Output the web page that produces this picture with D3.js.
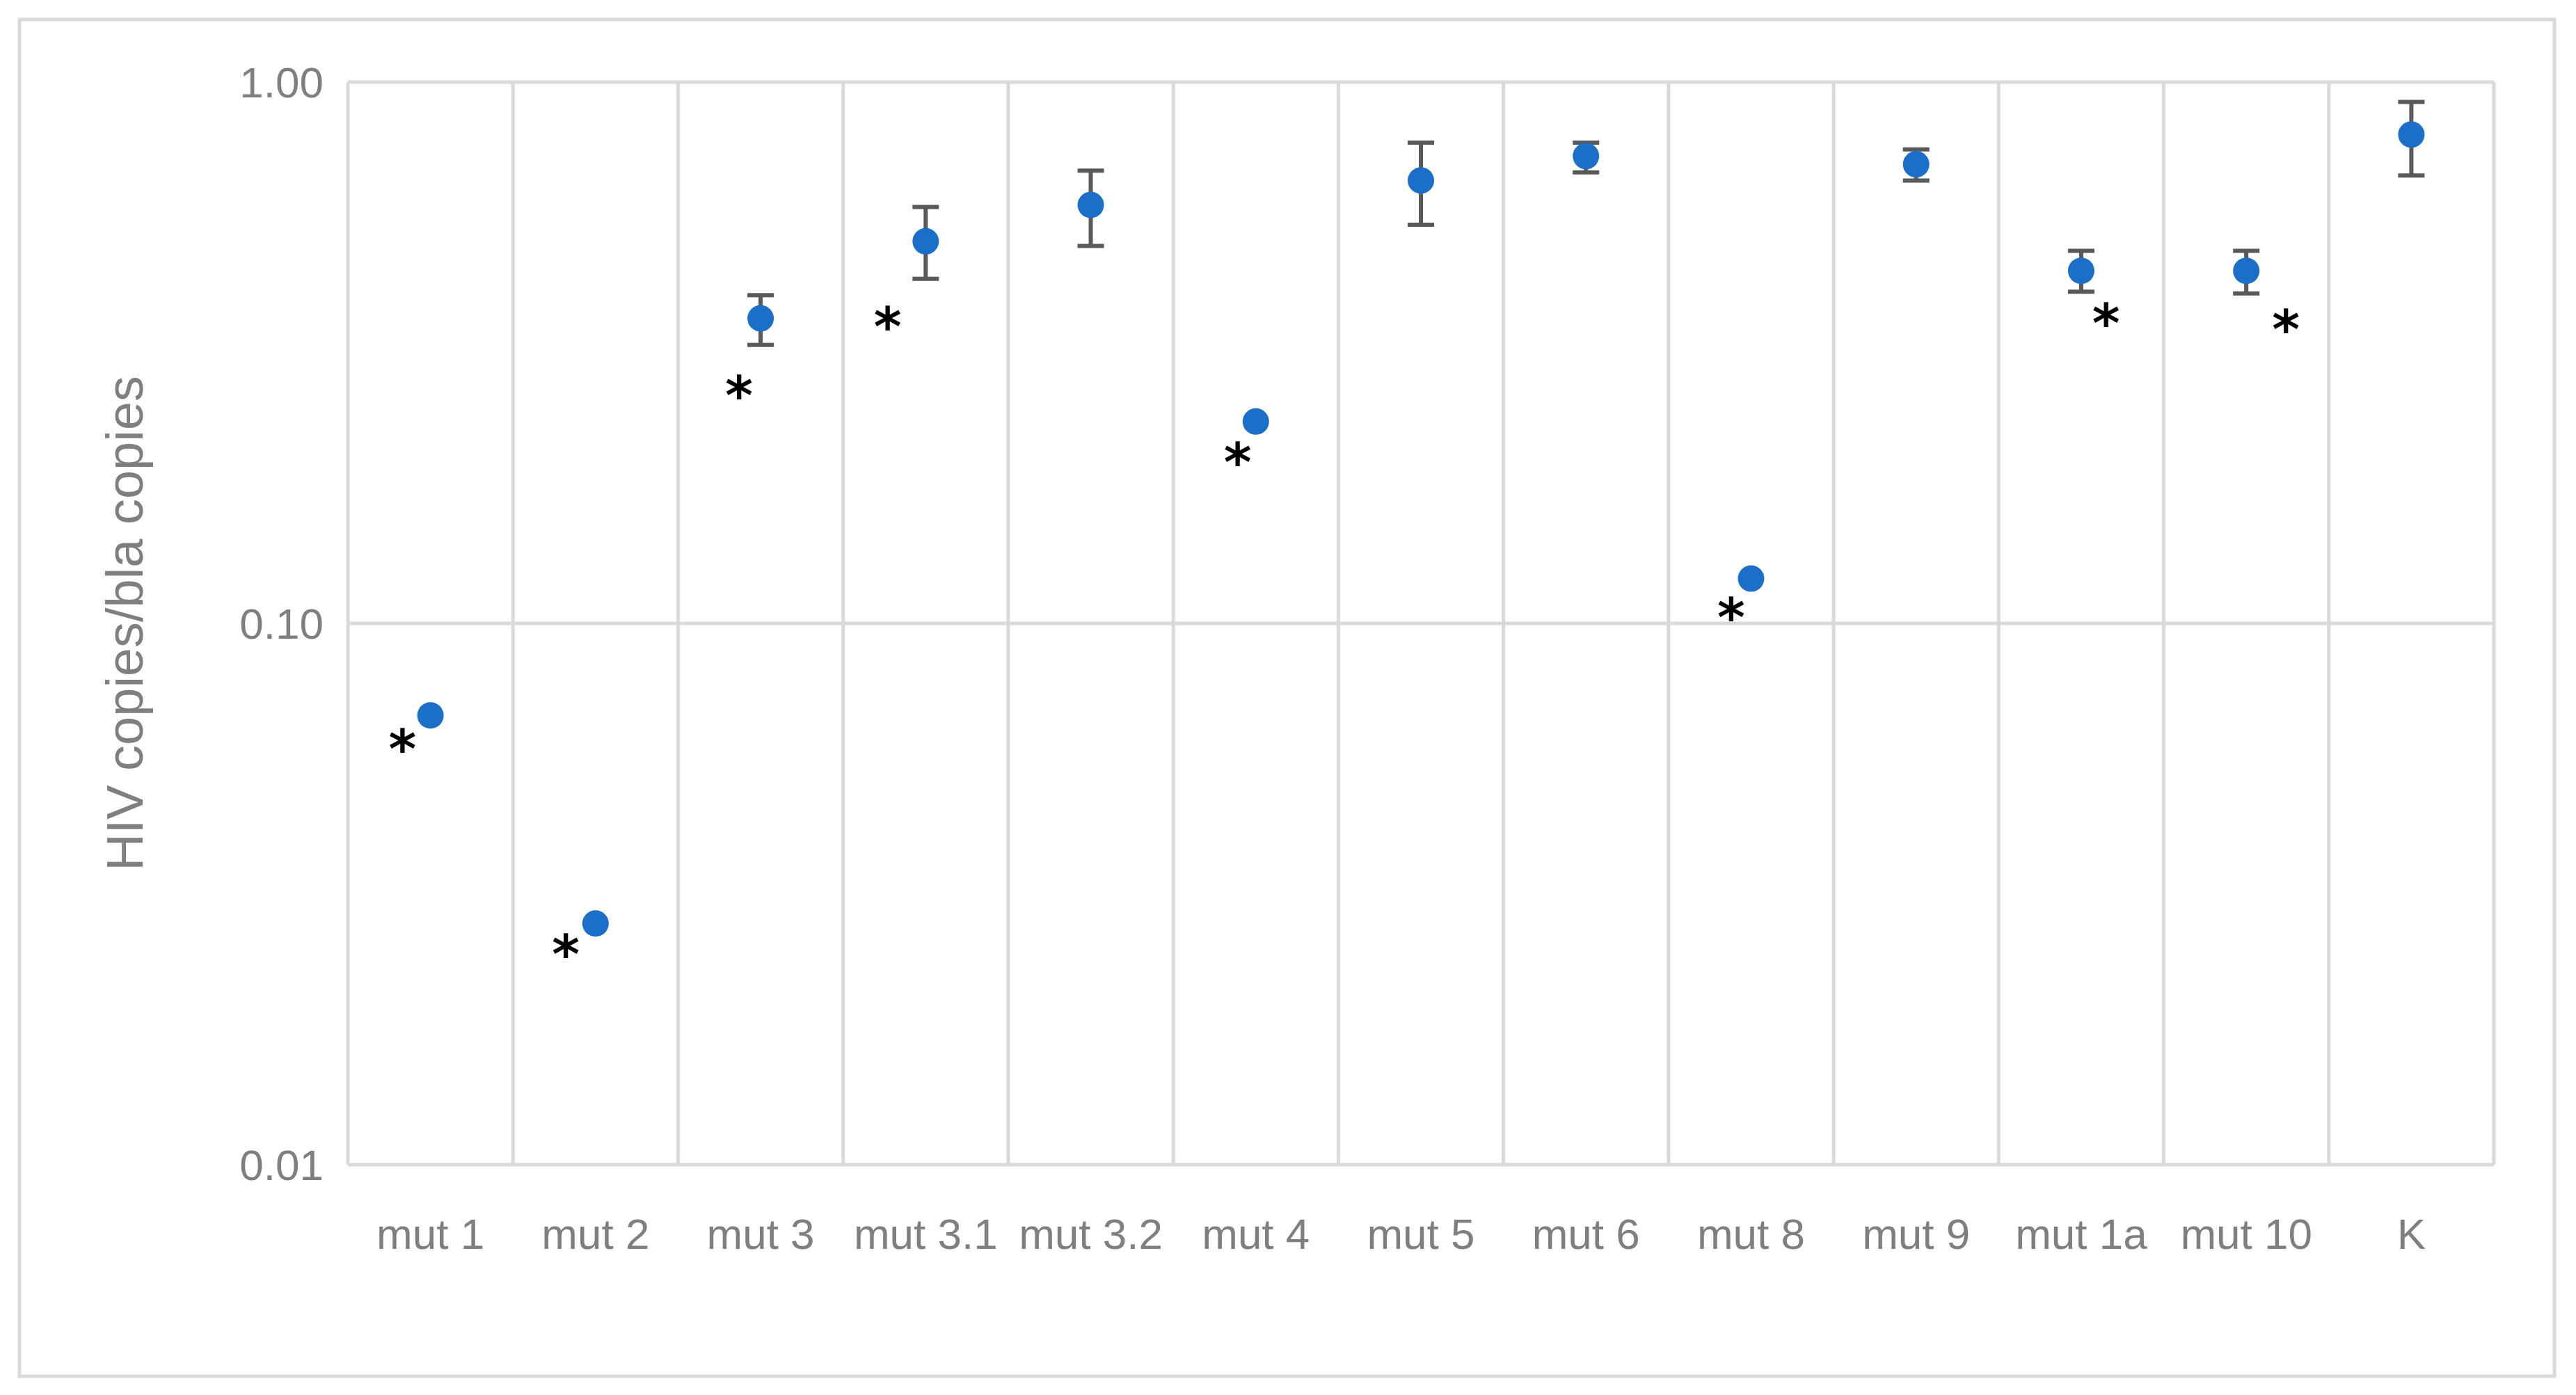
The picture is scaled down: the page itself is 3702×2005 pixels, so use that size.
<!DOCTYPE html>
<html><head><meta charset="utf-8">
<script src="https://cdn.jsdelivr.net/npm/d3@7"></script>
<style>body{margin:0;background:#fff}</style></head>
<body><svg id="c" width="3702" height="2005"></svg>
<script>
const categories=["mut 1","mut 2","mut 3","mut 3.1","mut 3.2","mut 4","mut 5","mut 6","mut 8","mut 9","mut 1a","mut 10","K"];
const values=[0.0676,0.0279,0.366,0.508,0.593,0.236,0.658,0.730,0.121,0.705,0.448,0.448,0.800];
const errHigh=[null,null,0.404,0.588,0.686,null,0.773,0.773,null,0.751,0.488,0.488,0.919];
const errLow=[null,null,0.327,0.433,0.498,null,0.545,0.681,null,0.658,0.410,0.407,0.672];
const starCats=["mut 1","mut 2","mut 3","mut 3.1","mut 4","mut 8","mut 1a","mut 10"];
const starValues=[0.0607,0.0253,0.273,0.366,0.205,0.106,0.371,0.361];
const starShift=[-0.17,-0.18,-0.13,-0.23,-0.11,-0.12,0.15,0.24];
const yTicks=[0.01,0.1,1];
const yLabel="HIV copies/bla copies";

const svg=d3.select("#c");
const L=500,R=3584,T=118,B=1674;
const font="'Liberation Sans Narrow','Liberation Sans',sans-serif";
svg.append("rect").attr("x",28).attr("y",28).attr("width",3643).attr("height",1950).attr("fill","none").attr("stroke","#d9d9d9").attr("stroke-width",5);
const x=d3.scaleBand().domain(categories).range([L,R]);
const y=d3.scaleLog().domain([0.01,1]).range([B,T]);
const grid=svg.append("g");
grid.selectAll("line.h").data(yTicks).join("line").attr("x1",L).attr("x2",R).attr("y1",d=>y(d)).attr("y2",d=>y(d)).attr("stroke","#d9d9d9").attr("stroke-width",5);
grid.selectAll("line.v").data(categories.map(c=>x(c)).concat([R])).join("line").attr("class","v").attr("x1",d=>d).attr("x2",d=>d).attr("y1",T).attr("y2",B).attr("stroke","#d9d9d9").attr("stroke-width",5);
svg.selectAll("text.yt").data(yTicks).join("text").attr("x",L-35).attr("y",d=>y(d)).attr("dy","0.35em").attr("text-anchor","end")
 .attr("font-family",font).attr("font-size",62).attr("fill","#7f7f7f").text(d=>d3.format(".2f")(d));
svg.selectAll("text.xt").data(categories).join("text").attr("x",d=>x(d)+x.bandwidth()/2).attr("y",1795).attr("text-anchor","middle")
 .attr("font-family",font).attr("font-size",62).attr("fill","#7f7f7f").text(d=>d);
svg.append("text").attr("transform",`translate(205,${(T+B)/2}) rotate(-90)`).attr("text-anchor","middle")
 .attr("font-family",font).attr("font-size",74).attr("fill","#7f7f7f").text(yLabel);
const cx=c=>x(c)+x.bandwidth()/2;
const eb=svg.append("g").attr("stroke","#595959").attr("stroke-width",6);
categories.forEach((c,i)=>{ if(errHigh[i]==null) return;
 eb.append("line").attr("x1",cx(c)).attr("x2",cx(c)).attr("y1",y(errLow[i])).attr("y2",y(errHigh[i]));
 [errLow[i],errHigh[i]].forEach(v=>eb.append("line").attr("x1",cx(c)-19).attr("x2",cx(c)+19).attr("y1",y(v)).attr("y2",y(v)));
});
svg.selectAll("circle").data(categories).join("circle").attr("cx",d=>cx(d)).attr("cy",(d,i)=>y(values[i])).attr("r",19).attr("fill","#1b6fc8");
svg.selectAll("text.st").data(starCats).join("text").attr("x",(d,i)=>cx(d)+starShift[i]*x.bandwidth()).attr("y",(d,i)=>y(starValues[i])).attr("dy","0.5em")
 .attr("text-anchor","middle").attr("font-family","'DejaVu Sans',sans-serif").attr("font-weight","bold").attr("font-size",76).attr("fill","#000").text("*");
</script></body></html>
